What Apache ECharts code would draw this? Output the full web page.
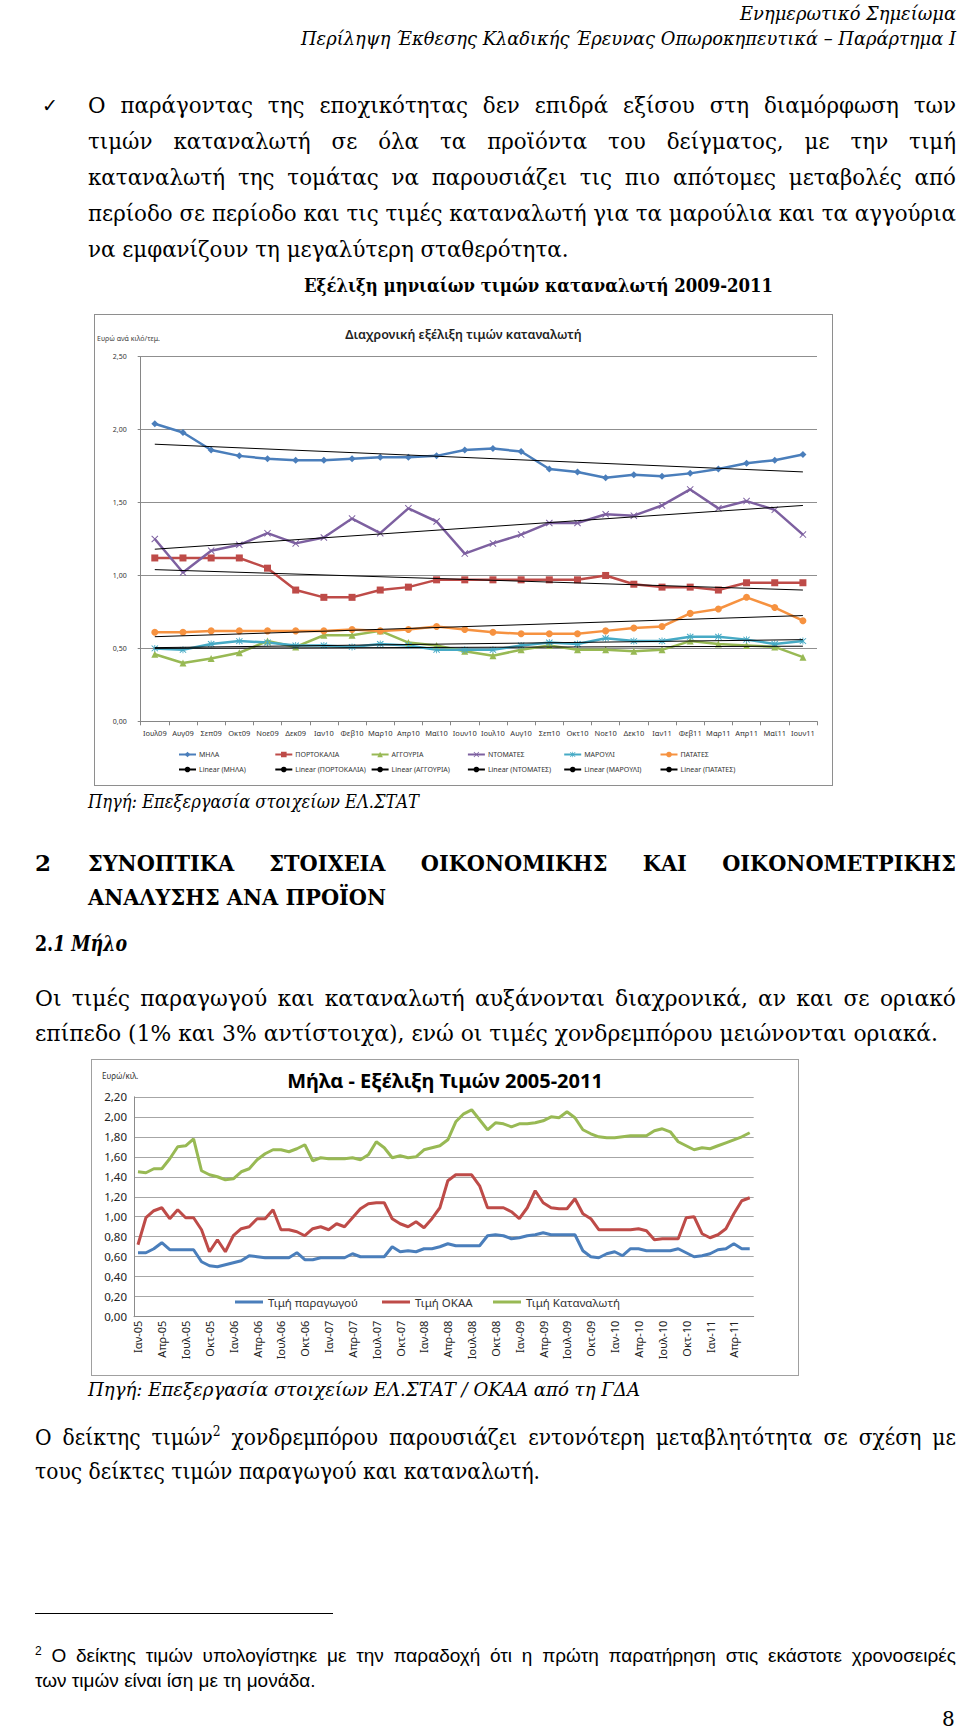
<!DOCTYPE html>
<html><head><meta charset="utf-8">
<script src="https://cdn.jsdelivr.net/npm/echarts@6/dist/echarts.min.js"></script>
<style>
html,body{margin:0;padding:0;background:#fff;}
body{width:960px;height:1731px;position:relative;overflow:hidden;font-family:"DejaVu Serif","Liberation Serif",serif;color:#000;}
.a{position:absolute;white-space:nowrap;}
.j{text-align:justify;text-align-last:justify;}
.it{font-style:italic;}
.b{font-weight:bold;}
.body{font-size:23px;line-height:30px;}
.sans{font-family:"Liberation Sans","Noto Sans",Arial,sans-serif;}
.chart{position:absolute;box-sizing:border-box;border:1px solid #8e8e8e;background:#fff;}
</style></head><body>

<div class="a it" data-g="h1" data-tw="216" style="left:740px;top:1px;font-size:19px;line-height:24px;">Ενημερωτικό Σημείωμα</div>
<div class="a it" data-g="h2" data-tw="655" style="left:301px;top:26px;font-size:19px;line-height:24px;">Περίληψη Έκθεσης Κλαδικής Έρευνας Οπωροκηπευτικά – Παράρτημα Ι</div>

<div class="a" style="left:42px;top:92px;font-family:'DejaVu Sans';font-size:19px;line-height:26px;">✓</div>
<div class="a body j" data-g="p1" data-tw="868" style="left:88px;top:90px;">Ο παράγοντας της εποχικότητας δεν επιδρά εξίσου στη διαμόρφωση των</div>
<div class="a body j" data-g="p1" data-tw="868" style="left:88px;top:126px;">τιμών καταναλωτή σε όλα τα προϊόντα του δείγματος, με την τιμή</div>
<div class="a body j" data-g="p1" data-tw="868" style="left:88px;top:162px;">καταναλωτή της τομάτας να παρουσιάζει τις πιο απότομες μεταβολές από</div>
<div class="a body j" data-g="p1" data-tw="868" style="left:88px;top:198px;">περίοδο σε περίοδο και τις τιμές καταναλωτή για τα μαρούλια και τα αγγούρια</div>
<div class="a body" data-g="p1" style="left:88px;top:234px;">να εμφανίζουν τη μεγαλύτερη σταθερότητα.</div>

<div class="a b" data-g="t1" data-tw="469" style="left:304px;top:272px;font-size:19px;line-height:26px;">Εξέλιξη μηνιαίων τιμών καταναλωτή 2009-2011</div>

<div id="c1" class="chart" style="left:94px;top:314px;width:739px;height:472px;"></div>

<div class="a it" data-g="s1" data-tw="331" style="left:88px;top:790px;font-size:18px;line-height:24px;">Πηγή: Επεξεργασία στοιχείων ΕΛ.ΣΤΑΤ</div>

<div class="a b" style="left:35px;top:848px;font-size:23px;line-height:30px;">2</div>
<div class="a b j" data-g="hd" data-tw="868" style="left:88px;top:848px;font-size:23px;line-height:30px;">ΣΥΝΟΠΤΙΚΑ ΣΤΟΙΧΕΙΑ ΟΙΚΟΝΟΜΙΚΗΣ ΚΑΙ ΟΙΚΟΝΟΜΕΤΡΙΚΗΣ</div>
<div class="a b" data-g="hd" data-tw="298" style="left:88px;top:882px;font-size:23px;line-height:30px;">ΑΝΑΛΥΣΗΣ ΑΝΑ ΠΡΟΪΟΝ</div>
<div class="a b" data-g="m" data-tw="92" style="left:35px;top:928px;font-size:23px;line-height:30px;">2.<span class="it">1 Μήλο</span></div>

<div class="a body j" data-g="p2" data-tw="921" style="left:35px;top:983px;">Οι τιμές παραγωγού και καταναλωτή αυξάνονται διαχρονικά, αν και σε οριακό</div>
<div class="a body" data-g="p2" data-tw="903" style="left:35px;top:1018px;">επίπεδο (1% και 3% αντίστοιχα), ενώ οι τιμές χονδρεμπόρου μειώνονται οριακά.</div>

<div id="c2" class="chart" style="left:91px;top:1059px;width:708px;height:317px;border-color:#a0a0a0;"></div>

<div class="a it" data-g="s2" data-tw="552" style="left:88px;top:1378px;font-size:18px;line-height:24px;">Πηγή: Επεξεργασία στοιχείων ΕΛ.ΣΤΑΤ / ΟΚΑΑ από τη ΓΔΑ</div>

<div class="a body j" data-g="p3" data-tw="921" style="left:35px;top:1422px;">Ο δείκτης τιμών<sup style="font-size:14px;line-height:0;">2</sup> χονδρεμπόρου παρουσιάζει εντονότερη μεταβλητότητα σε σχέση με</div>
<div class="a body" data-g="p3" data-tw="505" style="left:35px;top:1456px;">τους δείκτες τιμών παραγωγού και καταναλωτή.</div>

<div class="a" style="left:35px;top:1613px;width:298px;height:1px;background:#000;"></div>
<div class="a j sans" data-g="fn" data-tw="921" style="left:35px;top:1644px;font-size:19px;line-height:24px;"><sup style="font-size:12px;line-height:0;">2</sup> Ο δείκτης τιμών υπολογίστηκε με την παραδοχή ότι η πρώτη παρατήρηση στις εκάστοτε χρονοσειρές</div>
<div class="a sans" data-g="fn" style="left:35px;top:1669px;font-size:19px;line-height:24px;">των τιμών είναι ίση με τη μονάδα.</div>

<div class="a" style="left:942px;top:1706px;font-size:20px;line-height:26px;">8</div>

<script>
// ---------- Chart 1 data ----------
const cat1 = ['Ιουλ09','Αυγ09','Σεπ09','Οκτ09','Νοε09','Δεκ09','Ιαν10','Φεβ10','Μαρ10','Απρ10','Μαϊ10','Ιουν10','Ιουλ10','Αυγ10','Σεπ10','Οκτ10','Νοε10','Δεκ10','Ιαν11','Φεβ11','Μαρ11','Απρ11','Μαϊ11','Ιουν11'];
const mila = [2.04,1.98,1.86,1.82,1.80,1.79,1.79,1.80,1.81,1.81,1.82,1.86,1.87,1.85,1.73,1.71,1.67,1.69,1.68,1.70,1.73,1.77,1.79,1.83];
const portokalia = [1.12,1.12,1.12,1.12,1.05,0.90,0.85,0.85,0.90,0.92,0.97,0.97,0.97,0.97,0.97,0.97,1.00,0.94,0.92,0.92,0.90,0.95,0.95,0.95];
const agouria = [0.46,0.40,0.43,0.47,0.55,0.51,0.59,0.59,0.62,0.54,0.52,0.48,0.45,0.49,0.52,0.49,0.49,0.48,0.49,0.55,0.53,0.52,0.51,0.44];
const ntomates = [1.25,1.02,1.17,1.21,1.29,1.22,1.26,1.39,1.29,1.46,1.37,1.15,1.22,1.28,1.36,1.36,1.42,1.41,1.48,1.59,1.46,1.51,1.45,1.28];
const marouli = [0.50,0.49,0.53,0.55,0.54,0.52,0.52,0.51,0.53,0.52,0.49,0.49,0.49,0.52,0.54,0.53,0.57,0.55,0.55,0.58,0.58,0.56,0.53,0.55];
const patates = [0.61,0.61,0.62,0.62,0.62,0.62,0.62,0.63,0.62,0.63,0.65,0.63,0.61,0.60,0.60,0.60,0.62,0.64,0.65,0.74,0.77,0.85,0.78,0.69];
// linear trend lines: value at first and last month
const trendMila = [1.90, 1.71];
const trendPortokalia = [1.04, 0.90];
const trendAgouria = [0.50, 0.515];
const trendNtomates = [1.18, 1.48];
const trendMarouli = [0.505, 0.56];
const trendPatates = [0.58, 0.725];
const yTicks1 = [0, 2.5, 0.5];

// ---------- Chart 2 data ----------
const cat2 = ['Ιαν-05','Φεβ-05','Μαρ-05','Απρ-05','Μαϊ-05','Ιουν-05','Ιουλ-05','Αυγ-05','Σεπ-05','Οκτ-05','Νοε-05','Δεκ-05',
'Ιαν-06','Φεβ-06','Μαρ-06','Απρ-06','Μαϊ-06','Ιουν-06','Ιουλ-06','Αυγ-06','Σεπ-06','Οκτ-06','Νοε-06','Δεκ-06',
'Ιαν-07','Φεβ-07','Μαρ-07','Απρ-07','Μαϊ-07','Ιουν-07','Ιουλ-07','Αυγ-07','Σεπ-07','Οκτ-07','Νοε-07','Δεκ-07',
'Ιαν-08','Φεβ-08','Μαρ-08','Απρ-08','Μαϊ-08','Ιουν-08','Ιουλ-08','Αυγ-08','Σεπ-08','Οκτ-08','Νοε-08','Δεκ-08',
'Ιαν-09','Φεβ-09','Μαρ-09','Απρ-09','Μαϊ-09','Ιουν-09','Ιουλ-09','Αυγ-09','Σεπ-09','Οκτ-09','Νοε-09','Δεκ-09',
'Ιαν-10','Φεβ-10','Μαρ-10','Απρ-10','Μαϊ-10','Ιουν-10','Ιουλ-10','Αυγ-10','Σεπ-10','Οκτ-10','Νοε-10','Δεκ-10',
'Ιαν-11','Φεβ-11','Μαρ-11','Απρ-11','Μαϊ-11','Ιουν-11'];
const producer = [0.64,0.64,0.68,0.74,0.67,0.67,0.67,0.67,0.55,0.51,
0.50,0.52,0.54,0.56,0.61,0.60,0.59,0.59,0.59,0.59,
0.64,0.57,0.57,0.59,0.59,0.59,0.59,0.63,0.60,0.60,
0.60,0.60,0.70,0.65,0.66,0.65,0.68,0.68,0.70,0.73,
0.71,0.71,0.71,0.71,0.81,0.82,0.81,0.78,0.79,0.81,
0.82,0.84,0.82,0.82,0.82,0.82,0.66,0.60,0.59,0.63,
0.65,0.61,0.68,0.68,0.66,0.66,0.66,0.66,0.68,0.64,
0.60,0.61,0.63,0.67,0.68,0.73,0.68,0.68];
const okaa = [0.72,0.99,1.06,1.09,0.98,1.07,0.99,0.99,0.87,0.65,
0.77,0.65,0.81,0.88,0.90,0.98,0.98,1.07,0.87,0.87,
0.85,0.81,0.88,0.90,0.87,0.93,0.90,0.99,1.08,1.13,
1.14,1.14,0.98,0.93,0.90,0.95,0.89,0.98,1.09,1.36,
1.42,1.42,1.42,1.31,1.09,1.09,1.09,1.05,0.98,1.09,
1.26,1.14,1.09,1.08,1.08,1.18,1.03,0.98,0.87,0.87,
0.87,0.87,0.87,0.88,0.86,0.77,0.78,0.78,0.78,0.99,
1.00,0.83,0.79,0.82,0.88,1.03,1.16,1.19];
const consumer = [1.45,1.44,1.48,1.48,1.58,1.70,1.71,1.78,1.46,1.42,
1.40,1.37,1.38,1.45,1.48,1.57,1.63,1.67,1.67,1.65,
1.68,1.72,1.56,1.59,1.58,1.58,1.58,1.59,1.57,1.62,
1.75,1.69,1.59,1.61,1.59,1.60,1.67,1.69,1.71,1.77,
1.95,2.03,2.07,1.97,1.87,1.94,1.93,1.90,1.93,1.93,
1.94,1.96,2.00,1.99,2.05,1.99,1.87,1.83,1.80,1.79,
1.79,1.80,1.81,1.81,1.81,1.86,1.88,1.85,1.75,1.71,
1.67,1.69,1.68,1.71,1.74,1.77,1.80,1.84];
const yTicks2 = [0, 2.2, 0.2];

// ---------- fit page text widths to the reference ----------
function fitText(){
  const groups = {};
  document.querySelectorAll('[data-g]').forEach(el => { (groups[el.dataset.g] = groups[el.dataset.g] || []).push(el); });
  Object.keys(groups).forEach(k => {
    const els = groups[k];
    let s = 1, sj = Infinity;
    els.forEach(el => {
      el.style.transform = 'none';
      el.style.width = 'auto';
      el.style.textAlignLast = 'left';
      const nat = el.getBoundingClientRect().width;
      const tw = parseFloat(el.dataset.tw);
      if (isNaN(tw)) return;
      if (el.classList.contains('j')) sj = Math.min(sj, tw / nat);
      else s = tw / nat;
    });
    s = Math.min(s, sj);
    els.forEach(el => {
      const tw = parseFloat(el.dataset.tw);
      if (el.classList.contains('j')) { el.style.width = (tw / s) + 'px'; el.style.textAlignLast = 'justify'; }
      else el.style.textAlignLast = '';
      el.style.transformOrigin = 'left top';
      el.style.transform = 'scaleX(' + s + ')';
    });
  });
}
fitText();

const fmt = v => v.toFixed(2).replace('.', ',');
const SANS = '"Noto Sans", "Open Sans", sans-serif';

// ---------- Chart 1 ----------
const X_PATH = 'path://M0,1L1,0L5,4L9,0L10,1L6,5L10,9L9,10L5,6L1,10L0,9L4,5Z';
const STAR_PATH = 'path://M0,1L1,0L5,4L9,0L10,1L6,5L10,9L9,10L5,6L1,10L0,9L4,5Z M4.4,-0.5H5.6V10.5H4.4Z';
const main1 = [
  {name:'ΜΗΛΑ', data:mila, color:'#4A7EBB', symbol:'diamond', size:7},
  {name:'ΠΟΡΤΟΚΑΛΙΑ', data:portokalia, color:'#BE4B48', symbol:'rect', size:7},
  {name:'ΑΓΓΟΥΡΙΑ', data:agouria, color:'#98B954', symbol:'triangle', size:7},
  {name:'ΝΤΟΜΑΤΕΣ', data:ntomates, color:'#7D60A0', symbol:X_PATH, size:7},
  {name:'ΜΑΡΟΥΛΙ', data:marouli, color:'#46AAC5', symbol:STAR_PATH, size:7},
  {name:'ΠΑΤΑΤΕΣ', data:patates, color:'#F69240', symbol:'circle', size:7}
];
const trends1 = [trendMila, trendPortokalia, trendAgouria, trendNtomates, trendMarouli, trendPatates];
const series1 = main1.map(s => ({
  type:'line', name:s.name, data:s.data, color:s.color, symbol:s.symbol, symbolSize:s.size,
  showAllSymbol:true, lineStyle:{width:2.5, color:s.color}, itemStyle:{color:s.color}, z:2
}));
main1.forEach((s, k) => {
  const t = trends1[k];
  series1.push({
    type:'line', name:'Linear (' + s.name + ')', color:'#000', symbol:'none',
    data:[[cat1[0], t[0]], [cat1[cat1.length - 1], t[1]]],
    lineStyle:{width:1, color:'#000'}, z:3
  });
});
const legends1 = [];
series1.forEach((s, i) => {
  const col = i % 6, row = Math.floor(i / 6);
  legends1.push({
    data:[s.name], left:83 + 96.3 * col, top: row === 0 ? 436 : 451,
    itemWidth:17, itemHeight:7, padding:0, itemGap:0, selectedMode:false,
    textStyle:{fontSize:7, color:'#333', fontFamily:SANS, padding:[0,0,0,-2]}
  });
});

const c1 = echarts.init(document.getElementById('c1'), null, {renderer:'svg'});
c1.setOption({
  animation:false,
  title:{text:'Διαχρονική εξέλιξη τιμών καταναλωτή', left:'center', top:8,
    textStyle:{fontFamily:SANS, fontSize:12.5, fontWeight:600, color:'#222'}},
  graphic:[{type:'text', left:2, top:20, style:{text:'Ευρώ ανά κιλό/τεμ.', font:'7px "Noto Sans"', fill:'#444'}}],
  grid:{left:45.7, right:15, top:41.7, bottom:63.7},
  legend:legends1,
  xAxis:{type:'category', data:cat1, boundaryGap:true,
    axisLine:{lineStyle:{color:'#868686'}},
    axisTick:{show:true, length:4, interval:0, lineStyle:{color:'#868686'}},
    axisLabel:{fontSize:7.5, color:'#333', margin:8, interval:0, fontFamily:SANS}},
  yAxis:{type:'value', min:yTicks1[0], max:yTicks1[1], interval:yTicks1[2],
    axisLine:{show:true, lineStyle:{color:'#868686'}},
    axisTick:{show:true, length:3, lineStyle:{color:'#868686'}},
    splitLine:{lineStyle:{color:'#8f8f8f', width:1}},
    axisLabel:{formatter:fmt, fontSize:7, color:'#333', margin:14, fontFamily:SANS}},
  series:series1
});

// ---------- Chart 2 ----------
const series2def = [
  {name:'Τιμή παραγωγού', data:producer, color:'#4A7EBB', left:143},
  {name:'Τιμή ΟΚΑΑ', data:okaa, color:'#BE4B48', left:290},
  {name:'Τιμή Καταναλωτή', data:consumer, color:'#98B954', left:401}
];
const c2 = echarts.init(document.getElementById('c2'), null, {renderer:'svg'});
c2.setOption({
  animation:false,
  title:{text:'Μήλα - Εξέλιξη Τιμών 2005-2011', left:'center', top:5,
    textStyle:{fontFamily:SANS, fontSize:20, fontWeight:'bold', color:'#000'}},
  graphic:[{type:'text', left:10, top:11, style:{text:'Ευρώ/κιλ.', font:'8px "Noto Sans"', fill:'#333'}}],
  grid:{left:42, right:44.3, top:36.8, bottom:58.3},
  legend:series2def.map(s => ({
    data:[s.name], left:s.left, top:236, icon:'rect', itemWidth:28, itemHeight:3,
    padding:0, selectedMode:false,
    textStyle:{fontSize:11.5, color:'#333', fontFamily:SANS}
  })),
  xAxis:{type:'category', data:cat2, boundaryGap:true,
    axisLine:{lineStyle:{color:'#8c8c8c'}},
    axisTick:{show:false},
    axisLabel:{rotate:90, interval:2, fontSize:11, color:'#222', margin:4, fontFamily:SANS}},
  yAxis:{type:'value', min:yTicks2[0], max:yTicks2[1], interval:yTicks2[2],
    axisLine:{show:true, lineStyle:{color:'#8c8c8c'}},
    axisTick:{show:false},
    splitLine:{lineStyle:{color:'#a6a6a6', width:1}},
    axisLabel:{formatter:fmt, fontSize:11.5, color:'#222', margin:7, fontFamily:SANS}},
  series:series2def.map(s => ({
    type:'line', name:s.name, data:s.data, color:s.color, symbol:'none',
    lineStyle:{width:3, color:s.color}
  }))
});
</script>
</body></html>
